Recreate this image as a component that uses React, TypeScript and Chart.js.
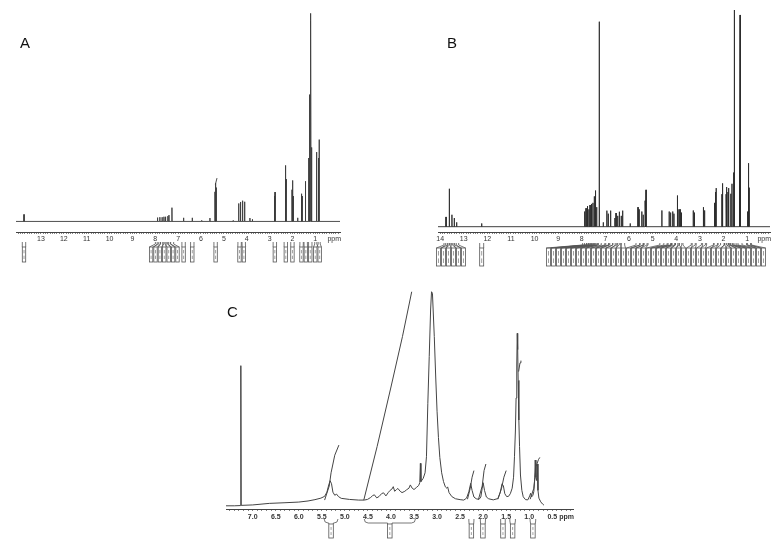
import React, { useEffect, useRef } from "react";
import { Chart, registerables } from "chart.js";

Chart.register(...registerables);

// ---------------- DATA ----------------
// Panel A: peak list [ppm, relative intensity]
const A_PEAKS: [number, number][] = [
  [13.74, 3.3], [7.9, 1.8], [7.8, 2.0], [7.7, 2.0], [7.62, 2.2], [7.55, 2.2], [7.45, 2.5], [7.4, 3.0],
  [7.27, 6.5], [6.76, 1.7], [6.38, 1.7], [5.97, 0.5], [5.61, 1.6],
  [5.39, 14], [5.36, 18], [5.33, 16], [4.59, 0.5],
  [4.35, 8.5], [4.27, 9.2], [4.18, 9.8], [4.09, 9.3],
  [3.86, 1.6], [3.75, 1.0], [2.79, 12], [2.76, 13.9],
  [2.31, 26.5], [2.28, 20],
  [2.02, 15], [1.99, 19.4], [1.96, 12], [1.77, 1.7],
  [1.61, 13.1], [1.58, 12], [1.43, 19],
  [1.29, 30], [1.25, 60], [1.22, 98.4], [1.19, 95], [1.16, 35],
  [0.96, 32.8], [0.93, 22], [0.86, 30], [0.83, 38.7],
];
// Panel A: integral trace over the 5.3 ppm signal
const A_INT_53: [number, number][] = [[5.37, 17.5], [5.3, 20.5]];

// Panel B: peak list [ppm, relative intensity]
const B_PEAKS: [number, number][] = [
  [13.75, 4.5], [13.61, 17.5], [13.5, 5.5], [13.4, 4], [13.3, 2], [12.24, 1.5],
  [7.88, 7], [7.82, 8.5], [7.76, 9.5], [7.7, 8], [7.65, 10], [7.59, 10.5], [7.53, 11], [7.47, 14],
  [7.42, 16.7], [7.37, 9], [7.26, 94.6], [7.09, 2],
  [6.94, 7.4], [6.88, 6], [6.78, 7.4], [6.6, 4], [6.55, 6.3], [6.48, 5], [6.41, 6.9],
  [6.33, 5], [6.27, 7.4], [5.95, 1.5],
  [5.62, 9], [5.57, 8], [5.46, 7], [5.4, 5.5], [5.32, 12], [5.28, 17],
  [4.61, 7.5], [4.3, 7], [4.24, 6.5], [4.15, 7], [4.1, 6],
  [3.95, 14.4], [3.89, 8], [3.84, 8], [3.78, 6.5],
  [3.28, 7.5], [3.23, 6.5], [2.85, 9], [2.8, 7.5],
  [2.38, 11], [2.34, 16], [2.31, 17.8],
  [2.07, 15], [2.04, 20],
  [1.89, 15], [1.86, 18.3], [1.81, 16], [1.78, 17.8], [1.69, 15.2], [1.64, 19.8],
  [1.57, 25], [1.55, 100], [1.53, 35],
  [1.33, 40], [1.3, 97.7], [1.28, 30],
  [0.98, 7], [0.94, 29.3], [0.91, 18],
];

// Panel C: traced spectrum [ppm, relative intensity]
const C_TRACE: [number, number][] = [
  [7.58, 1.0], [7.4, 1.0], [7.27, 1.1], [7.258, 64.7], [7.25, 1.2], [7.0, 1.4], [6.64, 2.1], [6.3, 2.4],
  [6.0, 2.7], [5.8, 3.2], [5.65, 3.8], [5.52, 4.5], [5.44, 5.3], [5.39, 7.2], [5.35, 10.5], [5.32, 12.4],
  [5.29, 11], [5.26, 7.2], [5.22, 5.8], [5.18, 6.3], [5.14, 5.2], [5.08, 4.4], [4.9, 3.9], [4.7, 3.6],
  [4.58, 3.6], [4.51, 3.9], [4.44, 4.8], [4.4, 5.6], [4.36, 6.0], [4.31, 4.6], [4.26, 5.2], [4.2, 6.6],
  [4.16, 6.9], [4.11, 5.5], [4.06, 7.0], [4.02, 8.0], [3.98, 8.6], [3.95, 9.7], [3.92, 7.6], [3.88, 8.4],
  [3.85, 8.9], [3.8, 7.6], [3.76, 7.0], [3.7, 7.6], [3.66, 8.3], [3.61, 9.0], [3.58, 10.5], [3.54, 9.0],
  [3.5, 8.4], [3.45, 9.3], [3.4, 10.2], [3.375, 11.5], [3.362, 20.3], [3.35, 12], [3.3, 13.5], [3.26, 16],
  [3.23, 23.3], [3.2, 47.6], [3.17, 68.8], [3.14, 90], [3.12, 98.3], [3.1, 97.6], [3.06, 77.9], [3.03, 60],
  [3.0, 44], [2.97, 32], [2.94, 23], [2.9, 16], [2.86, 12], [2.82, 9.6], [2.79, 9.0], [2.77, 9.6],
  [2.74, 7.0], [2.68, 5.2], [2.6, 4.2], [2.5, 3.8], [2.42, 3.6], [2.36, 4.5], [2.31, 7.4], [2.27, 11.2],
  [2.24, 8.0], [2.2, 5.0], [2.15, 4.2], [2.09, 3.9], [2.05, 5.0], [2.02, 9.0], [2.0, 11.5], [1.97, 8.0],
  [1.93, 5.0], [1.88, 4.2], [1.78, 3.7], [1.68, 4.3], [1.63, 7.0], [1.59, 11.0], [1.56, 10.0], [1.53, 6.5],
  [1.49, 5.2], [1.45, 5.3], [1.41, 6.5], [1.37, 9.0], [1.34, 14.0], [1.32, 23.3], [1.3, 35], [1.285, 50],
  [1.27, 65], [1.26, 79.4], [1.25, 72], [1.24, 58], [1.225, 40], [1.21, 28], [1.19, 15], [1.16, 8],
  [1.13, 5.1], [1.08, 3.8], [1.03, 3.7], [0.99, 5.5], [0.97, 6.7], [0.95, 5.0], [0.92, 5.8], [0.9, 7.5],
  [0.88, 14], [0.87, 21.8], [0.855, 14], [0.84, 12.5], [0.825, 20], [0.81, 8], [0.79, 4.5], [0.75, 2.8],
  [0.71, 1.8], [0.68, 1.3],
];

// Panel C: integral curves
const C_INT_53: [number, number][] = [[5.44, 3.6], [5.34, 10], [5.3, 16], [5.22, 24], [5.13, 28.6]];
const C_INT_40: [number, number][] = [[4.59, 3.6], [4.3, 28], [4.0, 55], [3.75, 78], [3.55, 98.3]];
const C_INT_225: [number, number][] = [[2.34, 4], [2.28, 9], [2.24, 14], [2.2, 17]];
const C_INT_200: [number, number][] = [[2.1, 4], [2.02, 10], [1.98, 17], [1.94, 20]];
const C_INT_155: [number, number][] = [[1.68, 4], [1.6, 9], [1.55, 14], [1.5, 17]];
const C_INT_125: [number, number][] = [[1.23, 62], [1.2, 66], [1.18, 67]];
const C_INT_085: [number, number][] = [[0.98, 4], [0.9, 9], [0.85, 19], [0.8, 22], [0.77, 23]];

// Tick labels (ppm)
const A_TICK_LABELS = [13, 12, 11, 10, 9, 8, 7, 6, 5, 4, 3, 2, 1];
const B_TICK_LABELS = [14, 13, 12, 11, 10, 9, 8, 7, 6, 5, 4, 3, 2, 1];
const C_TICK_LABELS = [7.0, 6.5, 6.0, 5.5, 5.0, 4.5, 4.0, 3.5, 3.0, 2.5, 2.0, 1.5, 1.0, 0.5];

// Integration regions (ppm centres, or [from, to] ranges)
const A_INTEGRALS: number[] = [
  13.74, 7.92, 7.84, 7.7, 7.6, 7.5, 7.4, 7.27, 6.76, 6.38, 5.36, 4.31, 4.13, 2.77, 2.29, 2.0, 1.6, 1.42, 1.22, 0.95, 0.86,
];
const B_INTEGRALS: number[] = [
  13.75, 13.68, 13.61, 13.5, 13.4, 13.3, 12.24,
  7.88, 7.8, 7.72, 7.65, 7.58, 7.5, 7.44, 7.38, 7.26, 6.94, 6.9, 6.78, 6.6, 6.5, 6.41, 6.27,
  5.62, 5.46, 5.32, 5.28, 4.61, 4.3, 4.26, 4.15, 4.12, 3.95, 3.85, 3.8, 3.28, 3.24, 2.85, 2.8,
  2.34, 2.31, 2.04, 1.89, 1.86, 1.79, 1.69, 1.64, 1.55, 1.3, 0.94, 0.9,
];
const C_INTEGRALS: [number, number][] = [
  [5.45, 5.15], [4.58, 3.47], [2.31, 2.2], [2.06, 1.95], [1.62, 1.52], [1.42, 1.3], [0.98, 0.86],
];

// ---------------- HELPERS ----------------
type Pt = { x: number; y: number };

function stickSpectrum(peaks: [number, number][], from: number, to: number): Pt[] {
  const sorted = [...peaks].sort((a, b) => b[0] - a[0]);
  const pts: Pt[] = [{ x: from, y: 0 }];
  for (const [p, h] of sorted) {
    pts.push({ x: p + 0.004, y: 0 }, { x: p, y: h }, { x: p - 0.004, y: 0 });
  }
  pts.push({ x: to, y: 0 });
  return pts;
}

function toPts(arr: [number, number][]): Pt[] {
  return arr.map(([x, y]) => ({ x, y }));
}

function minorTicks(min: number, max: number, step: number): number[] {
  const out: number[] = [];
  const k0 = Math.ceil(min / step - 1e-9);
  const k1 = Math.floor(max / step + 1e-9);
  for (let k = k0; k <= k1; k++) out.push(Math.round(k * step * 1000) / 1000);
  return out;
}

function layoutBoxes(ideal: number[], w: number, hi: number): number[] {
  type G = { sum: number; n: number; start: number };
  const groups: G[] = ideal.map((x) => ({ sum: x, n: 1, start: x - w / 2 }));
  let merged = true;
  while (merged) {
    merged = false;
    for (let i = 0; i < groups.length - 1; i++) {
      const a = groups[i];
      const b = groups[i + 1];
      if (a.start + a.n * w > b.start) {
        const n = a.n + b.n;
        const sum = a.sum + b.sum;
        groups.splice(i, 2, { sum, n, start: sum / n - (n * w) / 2 });
        merged = true;
        break;
      }
    }
  }
  const out: number[] = [];
  for (const g of groups) for (let k = 0; k < g.n; k++) out.push(g.start + k * w + w / 2);
  for (let i = out.length - 1; i >= 0; i--) {
    const lim = i === out.length - 1 ? hi - w / 2 : out[i + 1] - w;
    out[i] = Math.min(out[i], lim);
  }
  return out;
}

type Integral = number | [number, number];

interface PanelDef {
  left: number;
  top: number;
  width: number;
  height: number;
  padding: { left: number; right: number; top: number; bottom: number };
  xMin: number;
  xMax: number;
  yMin: number;
  yMax: number;
  tickLabels: number[];
  tickFmt: (v: number) => string;
  tickBold: boolean;
  tickPadding: number;
  tickLength: number;
  minorStep: number;
  letter: string;
  letterX: number;
  letterY: number;
  datasets: { data: Pt[]; color: string; width: number }[];
  integrals: Integral[];
  boxW: number;
  legTop: number;
  boxTop: number;
  boxH: number;
  boxHiPad: number;
}

const FONT = '"Liberation Sans", Arial, Helvetica, sans-serif';

function makeExtras(def: PanelDef) {
  return {
    id: "extras" + def.letter,
    afterDraw(chart: any) {
      const ctx: CanvasRenderingContext2D = chart.ctx;
      const xs = chart.scales.x;
      const area = chart.chartArea;
      const axisY = area.bottom;
      ctx.save();
      ctx.fillStyle = "#111";
      ctx.font = `15px ${FONT}`;
      ctx.textAlign = "left";
      ctx.textBaseline = "alphabetic";
      ctx.fillText(def.letter, def.letterX, def.letterY);
      ctx.fillStyle = "#333";
      ctx.font = `${def.tickBold ? "bold " : ""}7px ${FONT}`;
      ctx.textAlign = "right";
      ctx.textBaseline = "middle";
      ctx.fillText("ppm", area.right + 1, axisY + def.tickLength + def.tickPadding + 4.2);

      const hw = def.boxW / 2 - 0.5;
      const items = def.integrals
        .map((it) => {
          if (typeof it === "number") {
            const c = xs.getPixelForValue(it);
            return { a: c - hw, b: c + hw, c };
          }
          const pa = xs.getPixelForValue(it[0]);
          const pb = xs.getPixelForValue(it[1]);
          const a = Math.min(pa, pb);
          const b = Math.max(pa, pb);
          return { a, b, c: (a + b) / 2 };
        })
        .sort((p, q) => p.c - q.c);
      const centers = layoutBoxes(
        items.map((i) => i.c),
        def.boxW,
        area.right - def.boxHiPad
      );
      const y0 = axisY + def.legTop;
      const yb = axisY + def.boxTop;
      ctx.lineWidth = 0.8;
      items.forEach((it, i) => {
        const bx = centers[i];
        const bl = bx - def.boxW / 2 + 0.5;
        const br = bx + def.boxW / 2 - 0.5;
        ctx.strokeStyle = "#555";
        ctx.beginPath();
        if (it.b - it.a > def.boxW + 4) {
          const ym = y0 + 4;
          ctx.moveTo(it.a, y0);
          ctx.quadraticCurveTo(it.a, ym, it.a + 4, ym);
          ctx.lineTo(bl, ym);
          ctx.lineTo(bl, yb);
          ctx.moveTo(it.b, y0);
          ctx.quadraticCurveTo(it.b, ym, it.b - 4, ym);
          ctx.lineTo(br, ym);
          ctx.lineTo(br, yb);
        } else {
          ctx.moveTo(it.a, y0);
          ctx.lineTo(it.a, y0 + 2);
          ctx.lineTo(bl, yb);
          ctx.moveTo(it.b, y0);
          ctx.lineTo(it.b, y0 + 2);
          ctx.lineTo(br, yb);
        }
        ctx.stroke();
        ctx.strokeRect(bl, yb, br - bl, def.boxH);
        ctx.strokeStyle = "#888";
        ctx.beginPath();
        ctx.moveTo(bx, yb + 3);
        ctx.lineTo(bx, yb + def.boxH * 0.42);
        ctx.moveTo(bx, yb + def.boxH * 0.58);
        ctx.lineTo(bx, yb + def.boxH - 3);
        ctx.stroke();
      });
      ctx.restore();
    },
  };
}

function Panel({ def }: { def: PanelDef }) {
  const ref = useRef<HTMLCanvasElement | null>(null);
  useEffect(() => {
    if (!ref.current) return;
    const tickValues = minorTicks(def.xMin, def.xMax, def.minorStep);
    const chart = new Chart(ref.current, {
      type: "line",
      data: {
        datasets: def.datasets.map((d) => ({
          data: d.data,
          borderColor: d.color,
          borderWidth: d.width,
          pointRadius: 0,
          tension: 0,
          fill: false,
        })),
      } as any,
      options: {
        animation: false,
        responsive: false,
        maintainAspectRatio: false,
        layout: { padding: def.padding },
        plugins: {
          legend: { display: false },
          tooltip: { enabled: false },
        },
        scales: {
          x: {
            type: "linear",
            reverse: true,
            min: def.xMin,
            max: def.xMax,
            afterBuildTicks: (axis: any) => {
              axis.ticks = tickValues.map((v) => ({ value: v }));
            },
            afterFit: (axis: any) => {
              axis.height = 30;
            },
            ticks: {
              autoSkip: false,
              maxRotation: 0,
              minRotation: 0,
              padding: def.tickPadding,
              color: "#333",
              font: { size: 7, family: FONT, weight: def.tickBold ? "bold" : "normal" },
              callback: (value: any) => {
                const v = Number(value);
                const lab = def.tickLabels.find((l) => Math.abs(l - v) < 1e-6);
                return lab === undefined ? "" : def.tickFmt(lab);
              },
            },
            grid: {
              display: true,
              drawOnChartArea: false,
              drawTicks: true,
              tickLength: def.tickLength,
              color: "#666",
              tickWidth: 0.8,
            },
            border: { display: true, color: "#444", width: 1 },
          },
          y: { display: false, min: def.yMin, max: def.yMax },
        },
      } as any,
      plugins: [makeExtras(def)],
    });
    return () => chart.destroy();
  }, [def]);
  return (
    <div style={{ position: "absolute", left: def.left, top: def.top, width: def.width, height: def.height }}>
      <canvas ref={ref} width={def.width} height={def.height} style={{ width: def.width, height: def.height, display: "block" }} />
    </div>
  );
}

const PANEL_A: PanelDef = {
  left: 0, top: 0, width: 360, height: 270,
  padding: { left: 16, right: 20, top: 10, bottom: 8 },
  xMin: -0.08, xMax: 14.09, yMin: -5, yMax: 100,
  tickLabels: A_TICK_LABELS, tickFmt: (v) => String(v), tickBold: false,
  tickPadding: 1, tickLength: 2, minorStep: 0.1,
  letter: "A", letterX: 20, letterY: 48,
  datasets: [
    { data: stickSpectrum(A_PEAKS, 14.09, -0.08), color: "#3a3a3a", width: 0.9 },
    { data: toPts(A_INT_53), color: "#3a3a3a", width: 0.9 },
  ],
  integrals: A_INTEGRALS, boxW: 4.4, legTop: 10, boxTop: 15, boxH: 15, boxHiPad: 2,
};

const PANEL_B: PanelDef = {
  left: 420, top: 0, width: 360, height: 270,
  padding: { left: 18, right: 10, top: 10, bottom: 8 },
  xMin: 0.03, xMax: 14.09, yMin: -2.45, yMax: 100,
  tickLabels: B_TICK_LABELS, tickFmt: (v) => String(v), tickBold: false,
  tickPadding: 1, tickLength: 2, minorStep: 0.1,
  letter: "B", letterX: 27, letterY: 48,
  datasets: [{ data: stickSpectrum(B_PEAKS, 14.09, 0.03), color: "#2a2a2a", width: 0.9 }],
  integrals: B_INTEGRALS, boxW: 5, legTop: 11, boxTop: 16, boxH: 18, boxHiPad: 4,
};

const PANEL_C: PanelDef = {
  left: 210, top: 270, width: 370, height: 276,
  padding: { left: 16, right: 7, top: 18, bottom: 7 },
  xMin: 0.05, xMax: 7.58, yMin: -0.45, yMax: 100,
  tickLabels: C_TICK_LABELS, tickFmt: (v) => v.toFixed(1), tickBold: true,
  tickPadding: 2, tickLength: 2, minorStep: 0.1,
  letter: "C", letterX: 17, letterY: 47,
  datasets: [
    { data: toPts(C_TRACE), color: "#444", width: 1 },
    { data: toPts(C_INT_53), color: "#444", width: 1 },
    { data: toPts(C_INT_40), color: "#444", width: 1 },
    { data: toPts(C_INT_225), color: "#444", width: 1 },
    { data: toPts(C_INT_200), color: "#444", width: 1 },
    { data: toPts(C_INT_155), color: "#444", width: 1 },
    { data: toPts(C_INT_125), color: "#444", width: 1 },
    { data: toPts(C_INT_085), color: "#444", width: 1 },
  ],
  integrals: C_INTEGRALS, boxW: 5.5, legTop: 10, boxTop: 15, boxH: 14, boxHiPad: 2,
};

export default function App() {
  return (
    <div style={{ position: "absolute", left: 0, top: 0, width: 780, height: 546, background: "#fff", overflow: "hidden" }}>
      <Panel def={PANEL_A} />
      <Panel def={PANEL_B} />
      <Panel def={PANEL_C} />
    </div>
  );
}
